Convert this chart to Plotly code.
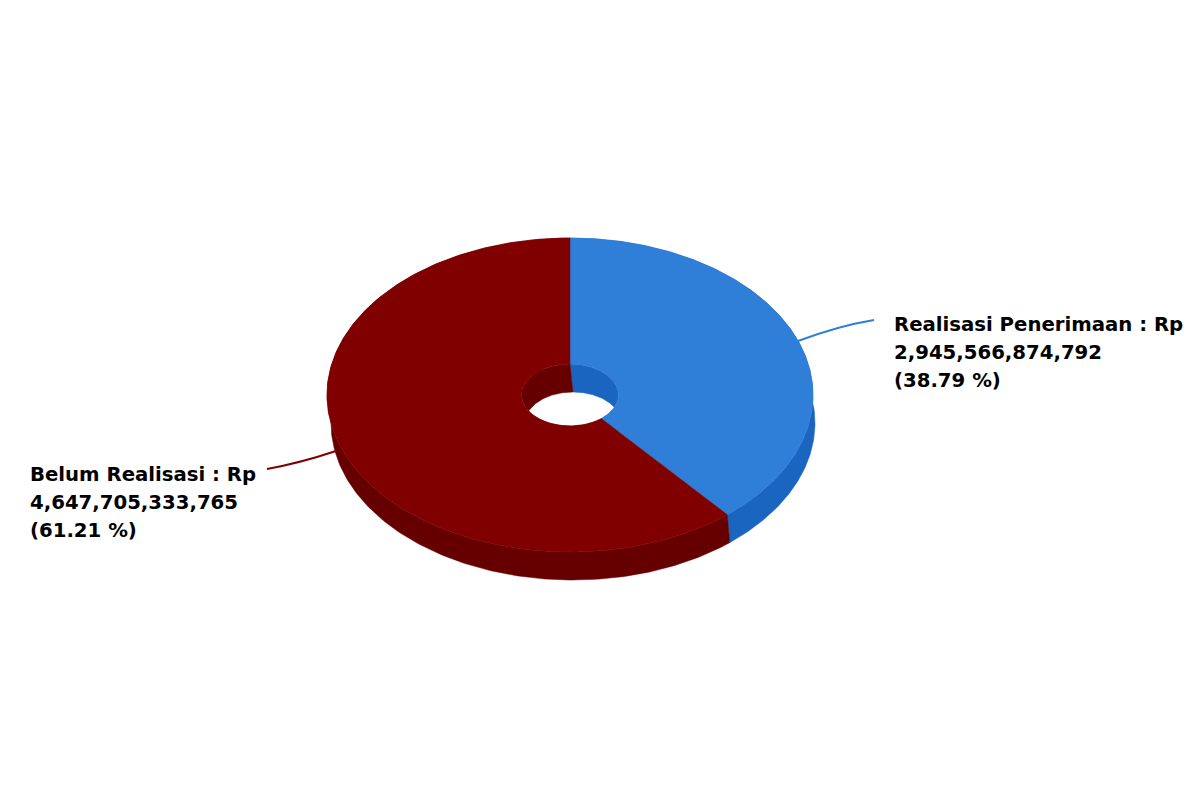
import numpy as np
import plotly.graph_objects as go

names = ["Realisasi Penerimaan", "Belum Realisasi"]
values = [2945566874792, 4647705333765]
top_colors = ["#2f7ed8", "#800000"]
side_colors = ["#1a65bf", "#660000"]

total = sum(values)
cx, cy = 570, 395
rx, ry = 243, 157
hole_rx, hole_ry = 48.5, 31
shift_x, shift_y = 3, 28


def arc(start, end, a_r, b_r, dx=0, dy=0):
    a = np.linspace(start, end, 240)
    return cx + dx + a_r * np.sin(a), cy + dy - b_r * np.cos(a)


def closed(x1, y1, x2, y2):
    # first arc, then the second one backwards, back to the start
    return np.r_[x1, x2[::-1], x1[0]], np.r_[y1, y2[::-1], y1[0]]


def add_poly(fig, x, y, color, name=None):
    fig.add_trace(go.Scatter(x=x, y=y, fill="toself", fillcolor=color, mode="lines",
                             line=dict(width=0.5, color=color), name=name,
                             hoverinfo="name" if name else "skip"))


fig = go.Figure()
angles = np.cumsum([0] + values) / total * 2 * np.pi

# walls first, top face goes over them
for i in range(len(values)):
    a0, a1 = angles[i], angles[i + 1]
    x, y = closed(*arc(a0, a1, rx, ry), *arc(a0, a1, 242, ry, shift_x, shift_y))
    add_poly(fig, x, y, side_colors[i])
    x, y = closed(*arc(a0, a1, hole_rx, hole_ry), *arc(a0, a1, 48, hole_ry, shift_x, shift_y))
    add_poly(fig, x, y, side_colors[i])
for i in range(len(values)):
    a0, a1 = angles[i], angles[i + 1]
    x, y = closed(*arc(a0, a1, rx, ry), *arc(a0, a1, hole_rx, hole_ry))
    add_poly(fig, x, y, top_colors[i], names[i])

label_x = [892, 28]
label_y = [324, 474]
for i in range(len(values)):
    lines = [names[i] + " : Rp", f"{values[i]:,}", f"({values[i] / total * 100:.2f} %)"]
    for j, line in enumerate(lines):
        fig.add_annotation(x=label_x[i], y=label_y[i] + j * 28, text=line, showarrow=False,
                           xanchor="left", yanchor="middle", xref="x", yref="y",
                           font=dict(family="DejaVu Sans", size=19.7, color="#000000", weight="bold"))

# the page has an 8px body margin, so the axes start at 8
fig.update_layout(
    width=1200, height=800, margin=dict(l=0, r=0, t=0, b=0),
    paper_bgcolor="white", plot_bgcolor="white", showlegend=False,
    xaxis=dict(range=[8, 1208], visible=False),
    yaxis=dict(range=[808, 8], visible=False),
    shapes=[
        dict(type="path", path="M 798 341 Q 838 326 874 320", line=dict(color=top_colors[0], width=2)),
        dict(type="path", path="M 336 451 Q 300 463 267 469", line=dict(color=top_colors[1], width=2)),
    ],
)
fig.write_html("out.html")
